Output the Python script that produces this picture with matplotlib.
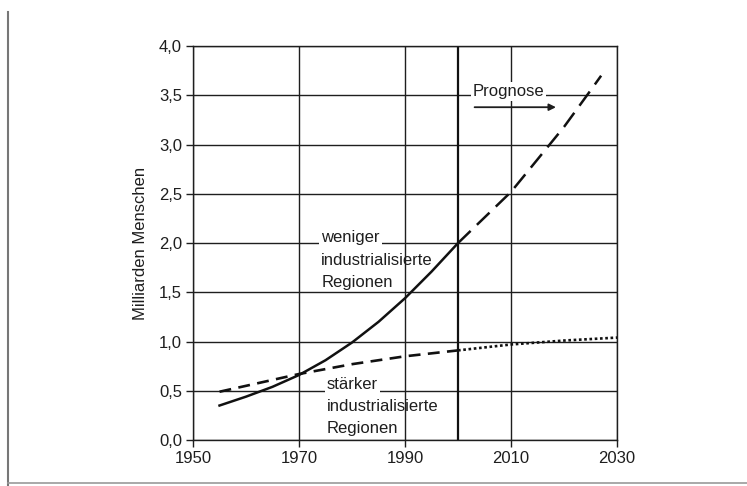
import numpy as np
import matplotlib.pyplot as plt

# weniger industrialisierte Regionen (solid = data, dashed = Prognose)
years_less = [1955, 1960, 1965, 1970, 1975, 1980, 1985, 1990, 1995, 2000]
pop_less = [0.35, 0.44, 0.54, 0.66, 0.81, 0.99, 1.20, 1.44, 1.71, 2.00]
years_less_prog = [2000, 2005, 2010, 2015, 2020, 2025, 2027]
pop_less_prog = [2.00, 2.26, 2.52, 2.85, 3.18, 3.55, 3.70]

# stärker industrialisierte Regionen (dashed = data, dotted = Prognose)
years_more = [1955, 1960, 1970, 1980, 1990, 2000]
pop_more = [0.49, 0.55, 0.67, 0.77, 0.85, 0.91]
years_more_prog = [2000, 2010, 2020, 2030]
pop_more_prog = [0.91, 0.97, 1.01, 1.04]

x_ticks = [1950, 1970, 1990, 2010, 2030]
y_ticks = [0.0, 0.5, 1.0, 1.5, 2.0, 2.5, 3.0, 3.5, 4.0]
y_labels = ['0,0', '0,5', '1,0', '1,5', '2,0', '2,5', '3,0', '3,5', '4,0']

plt.rcParams['font.family'] = ['Liberation Sans', 'DejaVu Sans']
ink = '#1e1e1e'

fig = plt.figure(figsize=(7.47, 4.86), dpi=100)
ax = fig.add_axes([0.2584, 0.0947, 0.5676, 0.8103])

# page border lines from the scan
fig.add_artist(plt.Line2D([0.0105, 0.0105], [0.0, 0.975], color='#777777', lw=1.5))
fig.add_artist(plt.Line2D([0.0105, 1.0], [0.006, 0.006], color='#999999', lw=1.2))

for yv in y_ticks:
    ax.axhline(yv, color=ink, lw=1.0, zorder=1)
for xv in x_ticks:
    ax.axvline(xv, color=ink, lw=1.0, zorder=1)
ax.axvline(2000, color='#111111', lw=1.6, zorder=1)

ax.plot(years_less, pop_less, color='#111111', lw=1.8, zorder=3)
ax.plot(years_less_prog, pop_less_prog, color='#111111', lw=1.8, dashes=(7, 3.5), zorder=3)
ax.plot(years_more, pop_more, color='#111111', lw=1.9, dashes=(4.5, 2.8), zorder=3)
ax.plot(years_more_prog, pop_more_prog, color='#111111', lw=1.9, dashes=(1, 1), zorder=3)

fs = 12
box = dict(facecolor='white', edgecolor='none', pad=1.5)
ax.text(1974.2, 2.01, 'weniger', fontsize=fs, color=ink, va='baseline', bbox=box, zorder=4)
ax.text(1974.2, 1.78, 'industrialisierte', fontsize=fs, color=ink, va='baseline', zorder=4)
ax.text(1974.2, 1.55, 'Regionen', fontsize=fs, color=ink, va='baseline', zorder=4)

ax.text(1975.2, 0.52, 'stärker', fontsize=fs, color=ink, va='baseline', bbox=box, zorder=4)
ax.text(1975.2, 0.29, 'industrialisierte', fontsize=fs, color=ink, va='baseline', zorder=4)
ax.text(1975.2, 0.07, 'Regionen', fontsize=fs, color=ink, va='baseline', zorder=4)

ax.text(2002.8, 3.49, 'Prognose', fontsize=fs, color=ink, va='baseline', bbox=box, zorder=4)
ax.annotate('', xy=(2019, 3.38), xytext=(2002.6, 3.38),
            arrowprops=dict(arrowstyle='-|>', color=ink, lw=1.3, mutation_scale=10), zorder=4)

ax.set_xlim(1950, 2030)
ax.set_ylim(0, 4.0)
ax.set_xticks(x_ticks)
ax.set_yticks(y_ticks)
ax.set_yticklabels(y_labels)
ax.tick_params(direction='out', length=5, width=1.0, color=ink, labelsize=fs, labelcolor=ink, pad=3)
for s in ax.spines.values():
    s.set_color(ink)
    s.set_linewidth(1.0)
ax.set_ylabel('Milliarden Menschen', fontsize=fs, color=ink, labelpad=8)

fig.savefig('out.png', dpi=100, facecolor='white')
